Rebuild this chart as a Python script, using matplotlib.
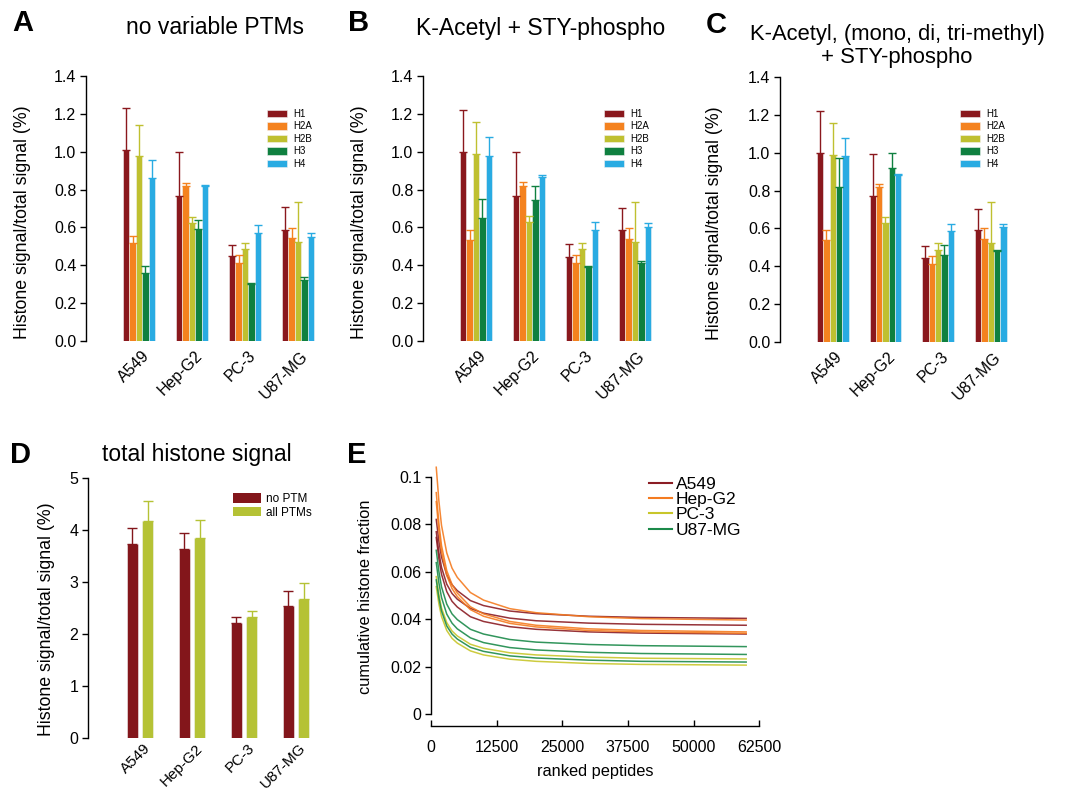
import numpy as np
import matplotlib.pyplot as plt
from matplotlib.patches import Patch
from matplotlib.lines import Line2D
from matplotlib.transforms import ScaledTranslation

plt.rcParams['font.family'] = ['Liberation Sans', 'DejaVu Sans']

# ---- data ----
cells = ['A549', 'Hep-G2', 'PC-3', 'U87-MG']
histones = ['H1', 'H2A', 'H2B', 'H3', 'H4']
hist_colors = ['#8a181d', '#f4821f', '#bfc030', '#0f8040', '#29abe2']

# panel A: no variable PTMs (one row per histone, one value per cell line)
a_mean = [[1.01, 0.768, 0.449, 0.586],
          [0.52, 0.819, 0.41, 0.542],
          [0.977, 0.625, 0.484, 0.523],
          [0.361, 0.593, 0.301, 0.322],
          [0.859, 0.82, 0.571, 0.551]]
a_err = [[0.22, 0.23, 0.06, 0.12],
         [0.036, 0.017, 0.044, 0.057],
         [0.164, 0.032, 0.035, 0.213],
         [0.037, 0.046, 0.004, 0.018],
         [0.097, 0.004, 0.044, 0.021]]

# panel B: K-Acetyl + STY-phospho
b_mean = [[1.0, 0.766, 0.445, 0.586],
          [0.534, 0.819, 0.412, 0.539],
          [0.986, 0.629, 0.484, 0.523],
          [0.65, 0.745, 0.393, 0.41],
          [0.977, 0.868, 0.586, 0.604]]
b_err = [[0.22, 0.232, 0.066, 0.115],
         [0.052, 0.021, 0.042, 0.06],
         [0.169, 0.033, 0.035, 0.213],
         [0.098, 0.074, 0.004, 0.014],
         [0.099, 0.009, 0.041, 0.021]]

# panel C: K-Acetyl, methyl + STY-phospho
c_mean = [[1.0, 0.769, 0.445, 0.59],
          [0.537, 0.819, 0.414, 0.542],
          [0.99, 0.627, 0.488, 0.525],
          [0.819, 0.919, 0.461, 0.479],
          [0.981, 0.88, 0.585, 0.607]]
c_err = [[0.22, 0.226, 0.064, 0.113],
         [0.053, 0.017, 0.04, 0.06],
         [0.169, 0.033, 0.035, 0.215],
         [0.153, 0.078, 0.053, 0.005],
         [0.098, 0.006, 0.04, 0.018]]

# panel D: total histone signal
d_labels = ['no PTM', 'all PTMs']
d_colors = ['#83161b', '#b5c235']
d_noptm = [3.72, 3.63, 2.21, 2.53]
d_noptm_err = [0.32, 0.31, 0.12, 0.30]
d_allptm = [4.17, 3.84, 2.32, 2.67]
d_allptm_err = [0.39, 0.35, 0.12, 0.30]

# panel E: cumulative histone fraction vs ranked peptides (replicates per line)
ranks = [1000, 1500, 2000, 3000, 4000, 5000, 7500, 10000, 15000, 20000, 30000, 40000, 60000]
a549_curves = [
    [0.082, 0.0728, 0.0662, 0.0586, 0.0545, 0.0520, 0.0478, 0.0457, 0.0434, 0.0423, 0.0412, 0.0407, 0.0403],
    [0.0768, 0.0681, 0.0618, 0.0547, 0.0508, 0.0484, 0.0445, 0.0425, 0.0404, 0.0393, 0.0383, 0.0378, 0.0374],
    [0.0744, 0.0654, 0.0589, 0.0516, 0.0475, 0.0451, 0.0410, 0.0390, 0.0368, 0.0357, 0.0346, 0.0341, 0.0337]]
hepg2_curves = [
    [0.104, 0.0898, 0.0795, 0.0679, 0.0615, 0.0576, 0.0512, 0.0480, 0.0444, 0.0427, 0.0410, 0.0402, 0.0396],
    [0.0933, 0.0804, 0.0710, 0.0604, 0.0546, 0.0510, 0.0452, 0.0422, 0.0390, 0.0374, 0.0359, 0.0352, 0.0346],
    [0.0895, 0.0773, 0.0684, 0.0584, 0.0529, 0.0495, 0.0440, 0.0412, 0.0382, 0.0367, 0.0352, 0.0346, 0.0340]]
pc3_curves = [
    [0.0579, 0.0503, 0.0447, 0.0385, 0.0350, 0.0329, 0.0294, 0.0277, 0.0258, 0.0249, 0.0240, 0.0235, 0.0232],
    [0.0537, 0.0464, 0.0411, 0.0352, 0.0319, 0.0299, 0.0266, 0.0249, 0.0231, 0.0222, 0.0213, 0.0209, 0.0206]]
u87_curves = [
    [0.069, 0.0601, 0.0536, 0.0463, 0.0422, 0.0398, 0.0357, 0.0337, 0.0314, 0.0303, 0.0293, 0.0288, 0.0284],
    [0.0638, 0.0553, 0.0491, 0.0421, 0.0383, 0.0359, 0.0321, 0.0301, 0.0280, 0.0270, 0.0260, 0.0255, 0.0251],
    [0.0565, 0.0489, 0.0434, 0.0371, 0.0337, 0.0316, 0.0281, 0.0264, 0.0245, 0.0236, 0.0227, 0.0222, 0.0219]]
e_colors = ['#8b1d24', '#f47b20', '#c8c62a', '#1b8a4a']

W, H = 1066, 793
fig = plt.figure(figsize=(W / 100, H / 100), dpi=100)


def px_axes(left, top, width, height):
    return fig.add_axes([left / W, 1 - (top + height) / H, width / W, height / H])


def style_bar_axes(ax, ymax, yticks, ylabels, label_x, label_y, xsize=11.5, xpad=9):
    for s in ['top', 'right', 'bottom']:
        ax.spines[s].set_visible(False)
    ax.spines['left'].set_linewidth(1.0)
    ax.spines['left'].set_bounds(0, ymax)
    ax.set_ylim(0, ymax)
    ax.set_xlim(-1, 3.6)
    ax.set_yticks(yticks)
    ax.set_yticklabels(ylabels)
    ax.tick_params(axis='y', direction='out', length=4, width=1, labelsize=11.5, pad=3)
    ax.set_xticks(range(len(cells)))
    ax.set_xticklabels(cells, rotation=45, ha='right', va='center', rotation_mode='anchor')
    ax.tick_params(axis='x', length=0, labelsize=xsize, pad=xpad)
    for lab in ax.get_xticklabels():
        lab.set_transform(lab.get_transform() + ScaledTranslation(8 / 100, 0, fig.dpi_scale_trans))
    ax.set_ylabel('Histone signal/total signal (%)', fontsize=12.8)
    ax.yaxis.set_label_coords(label_x, label_y)


def histone_panel(ax, means, errs, label_x):
    x = np.arange(len(cells))
    w = 0.12
    for i in range(len(histones)):
        pos = x + (i - 2) * w
        ax.bar(pos, means[i], w, color=hist_colors[i], edgecolor='#f2f2f2', linewidth=0.4)
        ax.errorbar(pos, means[i], yerr=[[0] * len(cells), errs[i]], fmt='none',
                    ecolor=hist_colors[i], elinewidth=1.0, capsize=2.6, capthick=1.0)
    style_bar_axes(ax, 1.4, [0, 0.2, 0.4, 0.6, 0.8, 1.0, 1.2, 1.4],
                   ['0.0', '0.2', '0.4', '0.6', '0.8', '1.0', '1.2', '1.4'], label_x, 0.45)


def histone_legend(left, top):
    handles = [Patch(facecolor=c, edgecolor='#f2f2f2', linewidth=0.4) for c in hist_colors]
    fig.legend(handles, histones, loc='upper left', bbox_to_anchor=(left / W, 1 - top / H),
               frameon=False, fontsize=7, handlelength=2.1, handleheight=0.8,
               labelspacing=0.25, handletextpad=0.6, borderpad=0, borderaxespad=0)


# panel A
axA = px_axes(86, 76, 243.8, 265)
histone_panel(axA, a_mean, a_err, -0.226)
histone_legend(267, 109)

# panel B
axB = px_axes(423, 76, 243.8, 265)
histone_panel(axB, b_mean, b_err, -0.226)
histone_legend(604, 109)

# panel C
axC = px_axes(780, 77, 242.4, 265)
histone_panel(axC, c_mean, c_err, -0.236)
histone_legend(960, 109)

# panel D
axD = px_axes(88, 477.7, 239.2, 260)
xd = np.arange(len(cells))
axD.bar(xd - 0.15, d_noptm, 0.21, color=d_colors[0], edgecolor='#f2f2f2', linewidth=0.4)
axD.bar(xd + 0.15, d_allptm, 0.21, color=d_colors[1], edgecolor='#f2f2f2', linewidth=0.4)
axD.errorbar(xd - 0.15, d_noptm, yerr=[[0] * 4, d_noptm_err], fmt='none',
             ecolor=d_colors[0], elinewidth=1.0, capsize=3.4, capthick=1.0)
axD.errorbar(xd + 0.15, d_allptm, yerr=[[0] * 4, d_allptm_err], fmt='none',
             ecolor=d_colors[1], elinewidth=1.0, capsize=3.4, capthick=1.0)
style_bar_axes(axD, 5, [0, 1, 2, 3, 4, 5], ['0', '1', '2', '3', '4', '5'], -0.138, 0.456,
               xsize=11, xpad=6)
d_handles = [Patch(facecolor=c) for c in d_colors]
fig.legend(d_handles, d_labels, loc='upper left', bbox_to_anchor=(233 / W, 1 - 493 / H),
           frameon=False, fontsize=8.5, handlelength=2.4, handleheight=0.85,
           labelspacing=0.15, handletextpad=0.4, borderpad=0, borderaxespad=0)

# panel E
axE = px_axes(431, 462.5, 328.3, 251.5)
groups = [a549_curves, hepg2_curves, pc3_curves, u87_curves]
for curves, col in zip(groups, e_colors):
    for vals in curves:
        axE.plot(ranks, vals, color=col, lw=1.1, alpha=0.9)
axE.set_xlim(0, 62500)
axE.set_ylim(0, 0.106)
for s in ['top', 'right']:
    axE.spines[s].set_visible(False)
axE.spines['left'].set_bounds(0, 0.1)
axE.spines['bottom'].set_bounds(0, 62500)
axE.spines['bottom'].set_position(('outward', 8.5))
axE.spines['left'].set_linewidth(1.0)
axE.spines['bottom'].set_linewidth(1.0)
axE.set_yticks([0, 0.02, 0.04, 0.06, 0.08, 0.1])
axE.set_yticklabels(['0', '0.02', '0.04', '0.06', '0.08', '0.1'])
axE.set_xticks([0, 12500, 25000, 37500, 50000, 62500])
axE.set_xticklabels(['0', '12500', '25000', '37500', '50000', '62500'])
axE.tick_params(axis='y', direction='out', length=4, width=1, labelsize=11.5, pad=3)
axE.tick_params(axis='x', direction='in', length=4, width=1, labelsize=11.5, pad=10)
axE.set_ylabel('cumulative histone fraction', fontsize=11.8)
axE.yaxis.set_label_coords(-0.177, 0.465)
axE.set_xlabel('ranked peptides', fontsize=11.8)
axE.xaxis.set_label_coords(0.5, -0.2)
e_handles = [Line2D([], [], color=c, lw=1.5) for c in e_colors]
fig.legend(e_handles, cells, loc='upper left', bbox_to_anchor=(649 / W, 1 - 477 / H),
           frameon=False, fontsize=12.5, handlelength=1.35, handletextpad=0.2,
           labelspacing=0.0, borderpad=0, borderaxespad=0)

# titles and panel letters
fig.text(23 / W, 1 - 23 / H, 'A', fontsize=21, fontweight='bold', ha='center', va='center')
fig.text(359 / W, 1 - 23 / H, 'B', fontsize=21, fontweight='bold', ha='center', va='center')
fig.text(716 / W, 1 - 25 / H, 'C', fontsize=21, fontweight='bold', ha='center', va='center')
fig.text(21 / W, 1 - 455 / H, 'D', fontsize=21, fontweight='bold', ha='center', va='center')
fig.text(357 / W, 1 - 455 / H, 'E', fontsize=21, fontweight='bold', ha='center', va='center')
fig.text(215 / W, 1 - 27 / H, 'no variable PTMs', fontsize=16.5, ha='center', va='center')
fig.text(541 / W, 1 - 29 / H, 'K-Acetyl + STY-phospho', fontsize=16.5, ha='center', va='center')
fig.text(897 / W, 1 - 46 / H, 'K-Acetyl, (mono, di, tri-methyl)\n+ STY-phospho', fontsize=15.8,
         ha='center', va='center', multialignment='center', linespacing=1.15)
fig.text(197 / W, 1 - 455 / H, 'total histone signal', fontsize=16.5, ha='center', va='center')

fig.savefig('out.png', dpi=100)
